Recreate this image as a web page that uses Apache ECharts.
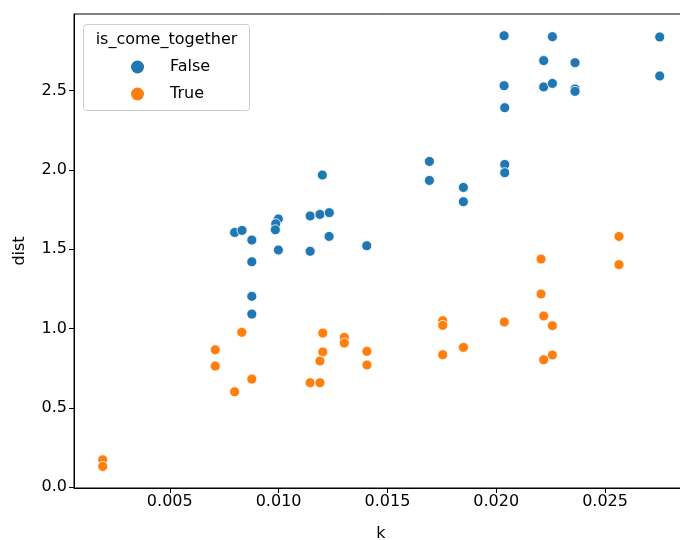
<!DOCTYPE html>
<html>
<head>
<meta charset="UTF-8">
<title>k vs dist</title>
<script src="https://cdn.jsdelivr.net/npm/echarts@6/dist/echarts.min.js"></script>
<style>
  html, body { margin: 0; padding: 0; background: #fff; }
  #main { width: 680px; height: 540px; }
</style>
</head>
<body>
<div id="main"></div>
<script>
// is_come_together = False
var kFalse = [0.01201, 0.01145, 0.01190, 0.01233, 0.01232, 0.00798, 0.00832, 0.00877,
  0.00999, 0.00987, 0.00985, 0.00999, 0.01145, 0.01405, 0.00877, 0.00877, 0.00877,
  0.02036, 0.02258, 0.02751, 0.02218, 0.02362, 0.02751, 0.02036, 0.02218, 0.02258,
  0.02362, 0.02362, 0.02039, 0.01693, 0.01693, 0.01849, 0.01849, 0.02039, 0.02039];
var distFalse = [1.968, 1.710, 1.720, 1.731, 1.581, 1.606, 1.619, 1.558,
  1.691, 1.661, 1.623, 1.495, 1.487, 1.522, 1.421, 1.203, 1.091,
  2.847, 2.841, 2.839, 2.690, 2.677, 2.593, 2.532, 2.524, 2.546,
  2.511, 2.496, 2.393, 2.054, 1.934, 1.890, 1.800, 2.035, 1.983];

// is_come_together = True
var kTrue = [0.00192, 0.00192, 0.00709, 0.00709, 0.00831, 0.00798, 0.00877, 0.01203,
  0.01203, 0.01190, 0.01145, 0.01190, 0.01302, 0.01302, 0.01406, 0.01406,
  0.02564, 0.02564, 0.02206, 0.02206, 0.01754, 0.01754, 0.01754, 0.01849,
  0.02037, 0.02218, 0.02258, 0.02258, 0.02218];
var distTrue = [0.172, 0.130, 0.866, 0.763, 0.976, 0.601, 0.681, 0.971,
  0.852, 0.795, 0.658, 0.658, 0.944, 0.908, 0.856, 0.770,
  1.581, 1.403, 1.438, 1.218, 1.049, 1.020, 0.835, 0.881,
  1.041, 1.079, 1.018, 0.833, 0.803];

var xTicks = [0.005, 0.010, 0.015, 0.020, 0.025];
var yTicks = [0.0, 0.5, 1.0, 1.5, 2.0, 2.5];

function pairs(xs, ys) {
  var out = [];
  for (var i = 0; i < xs.length; i++) {
    out.push([xs[i], ys[i]]);
  }
  return out;
}

var dom = document.getElementById('main');
var myChart = echarts.init(dom, null, { renderer: 'canvas' });
var font = 'DejaVu Sans';

var option = {
  animation: false,
  textStyle: { fontFamily: font },
  grid: {
    left: 74, top: 14, width: 614, height: 474,
    outerBoundsMode: 'none',
    containLabel: false,
    show: true, borderColor: '#000', borderWidth: 1,
    backgroundColor: 'transparent'
  },
  graphic: [{
    type: 'rect',
    z: 1,
    shape: { x: 83.5, y: 24.5, width: 166, height: 86, r: 3 },
    style: { fill: 'rgba(255,255,255,0.8)', stroke: '#cccccc', lineWidth: 1 }
  }, {
    type: 'text',
    z: 2,
    x: 166.5, y: 39.5,
    style: {
      text: 'is_come_together', fontFamily: font, fontSize: 16,
      fill: '#000', align: 'center', verticalAlign: 'middle'
    }
  }],
  legend: {
    orient: 'vertical',
    left: 131, top: 58,
    padding: 0,
    itemWidth: 13, itemHeight: 13,
    itemGap: 9,
    icon: 'circle',
    itemStyle: { borderWidth: 0 },
    textStyle: { fontFamily: font, fontSize: 16, color: '#000', lineHeight: 18, padding: [0, 0, 0, 21] },
    data: ['False', 'True']
  },
  xAxis: {
    type: 'value',
    min: 0.0006, max: 0.02881,
    name: 'k', nameLocation: 'middle', nameGap: 38,
    nameTextStyle: { fontFamily: font, fontSize: 16, color: '#000' },
    splitLine: { show: false },
    axisLine: { onZero: false, lineStyle: { color: '#000', width: 1 } },
    axisTick: { customValues: xTicks, length: 5, lineStyle: { color: '#000' } },
    axisLabel: {
      customValues: xTicks, margin: 6,
      fontFamily: font, fontSize: 16, color: '#000',
      formatter: function (v) { return v.toFixed(3); }
    }
  },
  yAxis: {
    type: 'value',
    min: -0.006, max: 2.984,
    name: 'dist', nameLocation: 'middle', nameGap: 46, nameRotate: 90,
    nameTextStyle: { fontFamily: font, fontSize: 16, color: '#000' },
    splitLine: { show: false },
    axisLine: { show: true, onZero: false, lineStyle: { color: '#000', width: 1 } },
    axisTick: { show: true, customValues: yTicks, length: 5, lineStyle: { color: '#000' } },
    axisLabel: {
      customValues: yTicks, margin: 7,
      fontFamily: font, fontSize: 16, color: '#000',
      formatter: function (v) { return v.toFixed(1); }
    }
  },
  series: [{
    name: 'False',
    type: 'scatter',
    symbolSize: 10,
    itemStyle: { color: '#1f77b4', borderColor: '#fff', borderWidth: 0.8, opacity: 1 },
    data: pairs(kFalse, distFalse)
  }, {
    name: 'True',
    type: 'scatter',
    symbolSize: 10,
    itemStyle: { color: '#ff7f0e', borderColor: '#fff', borderWidth: 0.8, opacity: 1 },
    data: pairs(kTrue, distTrue)
  }]
};

if (option && typeof option === 'object') {
  myChart.setOption(option, true);
}
</script>
</body>
</html>
